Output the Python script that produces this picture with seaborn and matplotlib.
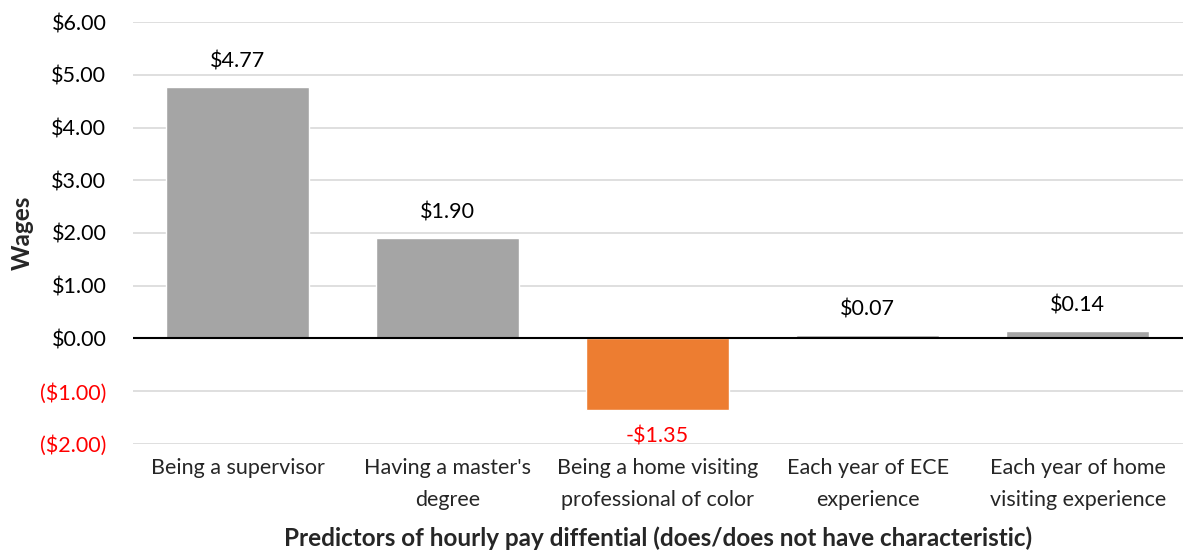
import matplotlib
matplotlib.use("Agg")
import matplotlib.pyplot as plt
import seaborn as sns
import pandas as pd

categories = [
    "Being a supervisor",
    "Having a master's\ndegree",
    "Being a home visiting\nprofessional of color",
    "Each year of ECE\nexperience",
    "Each year of home\nvisiting experience",
]
values = [4.77, 1.90, -1.35, 0.07, 0.14]
value_labels = ["$4.77", "$1.90", "-$1.35", "$0.07", "$0.14"]
y_ticks = [-2, -1, 0, 1, 2, 3, 4, 5, 6]
y_tick_labels = ["($2.00)", "($1.00)", "$0.00", "$1.00", "$2.00",
                 "$3.00", "$4.00", "$5.00", "$6.00"]

sns.set_theme(style="white")
plt.rcParams["font.family"] = ["Lato", "DejaVu Sans"]

GRAY = "#A5A5A5"
ORANGE = "#ED7D31"
RED = "#FF0000"

df = pd.DataFrame({"category": categories, "value": values})
colors = [ORANGE if v < 0 else GRAY for v in values]

fig = plt.figure(figsize=(11.85, 5.52), dpi=100)
ax = fig.add_axes([0.112, 0.196, 0.886, 0.764])

sns.barplot(data=df, x="category", y="value", hue="category",
            palette=colors, legend=False, width=0.68, saturation=1,
            ax=ax, zorder=3)

ax.set_ylim(-2, 6)
ax.set_yticks(y_ticks)
ax.set_yticklabels(y_tick_labels, fontsize=15.5)
for lab, t in zip(ax.get_yticklabels(), y_ticks):
    lab.set_color(RED if t < 0 else "black")

ax.yaxis.grid(True, color="#D9D9D9", linewidth=1.2, zorder=0)
ax.xaxis.grid(False)
ax.axhline(0, color="black", linewidth=1.5, zorder=4)
for s in ax.spines.values():
    s.set_visible(False)
ax.tick_params(axis="y", length=0, pad=19)
ax.tick_params(axis="x", length=0, labelsize=15.5, pad=10)
ax.set_xticks(range(len(categories)))
ax.set_xticklabels(categories, fontsize=15.5, linespacing=1.8)

for i, (v, txt) in enumerate(zip(values, value_labels)):
    if v >= 0:
        ax.annotate(txt, (i, v), xytext=(0, 11), textcoords="offset points",
                    ha="center", va="bottom", fontsize=15.5, color="black")
    else:
        ax.annotate(txt, (i, v), xytext=(0, -12), textcoords="offset points",
                    ha="center", va="top", fontsize=15.5, color=RED)

ax.set_xlabel("Predictors of hourly pay diffential (does/does not have characteristic)",
              fontsize=17.5, fontweight="bold")
ax.set_ylabel("Wages", fontsize=17.5, fontweight="bold")
ax.yaxis.set_label_coords(-0.094, 0.5)
ax.xaxis.set_label_coords(0.5, -0.197)

fig.savefig("out.png", dpi=100)
